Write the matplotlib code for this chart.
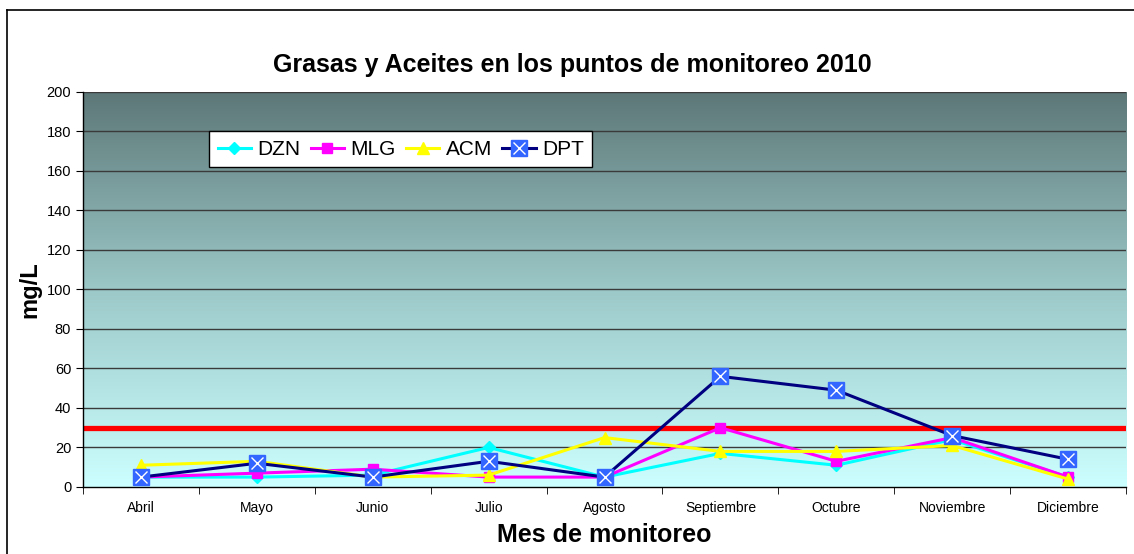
import matplotlib
matplotlib.use("Agg")
import matplotlib.pyplot as plt
import numpy as np
from matplotlib.colors import LinearSegmentedColormap
from matplotlib.legend_handler import HandlerTuple
from matplotlib.lines import Line2D

plt.rcParams["font.family"] = ["Liberation Sans", "DejaVu Sans"]

# ── data ─────────────────────────────────────────────
months = ["Abril", "Mayo", "Junio", "Julio", "Agosto",
          "Septiembre", "Octubre", "Noviembre", "Diciembre"]
dzn = [5, 5, 6, 20, 5, 17, 11, 24, 5]
mlg = [5, 7, 9, 5, 5, 30, 13, 25, 5]
acm = [11, 13, 5, 6, 25, 18, 18, 21, 4]
dpt = [5, 12, 5, 13, 5, 56, 49, 26, 14]
limit = 30

fig = plt.figure(figsize=(11.34, 5.54), dpi=100)
ax = fig.add_axes([0.0732, 0.121, 0.9198, 0.713])

# gradient background
cmap = LinearSegmentedColormap.from_list("bg", ["#ccffff", "#9cc8c8", "#5d7777"])
grad = np.linspace(0, 1, 256).reshape(-1, 1)
ax.imshow(grad, aspect="auto", cmap=cmap, origin="lower",
          extent=[0, 1, 0, 1], transform=ax.transAxes, zorder=0)

x = np.arange(len(months))
ax.set_xlim(-0.5, len(months) - 0.5)
ax.set_ylim(0, 200)
ax.set_yticks(np.arange(0, 201, 20))
for yv in np.arange(20, 201, 20):
    ax.axhline(yv, color="#3a3a3a", lw=1, zorder=1)

ax.axhline(limit, color="#ff0000", lw=3.8, zorder=2)

lw = 2.2
h1, = ax.plot(x, dzn, color="#00ffff", lw=lw, marker="D", ms=6, zorder=3)
h2, = ax.plot(x, mlg, color="#ff00ff", lw=lw, marker="s", ms=7, zorder=4)
h3, = ax.plot(x, acm, color="#ffff00", lw=lw, marker="^", ms=8, zorder=5)
h4, = ax.plot(x, dpt, color="#000080", lw=lw, marker="s", ms=11,
              mfc="#3366ff", mec="#3366ff", zorder=6)
h4x, = ax.plot(x, dpt, ls="none", marker="x", ms=8, mew=1.0,
               color="white", zorder=7)

ax.set_xticks(x)
ax.set_xticklabels(months, fontsize=10)
ax.set_xticks(np.arange(-0.5, len(months), 1), minor=True)
ax.tick_params(axis="x", which="major", length=0, pad=10)
ax.tick_params(axis="x", which="minor", length=5, direction="out")
ax.tick_params(axis="y", labelsize=10.5, length=5)

for s in ["top", "right"]:
    ax.spines[s].set_visible(False)
for s in ["left", "bottom"]:
    ax.spines[s].set_linewidth(1)

fig.text(0.505, 1 - 65 / 554, "Grasas y Aceites en los puntos de monitoreo 2010",
         fontsize=18, fontweight="bold", ha="center", va="center")
ax.set_xlabel("Mes de monitoreo", fontsize=18, fontweight="bold", labelpad=6)
ax.set_ylabel("mg/L", fontsize=17, fontweight="bold", labelpad=4)

leg = ax.legend([h1, h2, h3, (h4, h4x)], ["DZN", "MLG", "ACM", "DPT"],
                handler_map={tuple: HandlerTuple(ndivide=1)},
                ncol=4, loc="upper left", bbox_to_anchor=(0.121, 0.9),
                fontsize=15, frameon=True, fancybox=False, edgecolor="black",
                framealpha=1, borderpad=0.4, borderaxespad=0,
                handlelength=1.6, handletextpad=0.3, columnspacing=0.5)
leg.get_frame().set_linewidth(1)
leg.set_zorder(10)

# outer chart border
fig.add_artist(Line2D([7 / 1134, 7 / 1134], [0, 1 - 10 / 554],
                      transform=fig.transFigure, color="black", lw=1.2))
fig.add_artist(Line2D([7 / 1134, 1], [1 - 10 / 554, 1 - 10 / 554],
                      transform=fig.transFigure, color="black", lw=1.2))

fig.savefig("out.png", dpi=100)
